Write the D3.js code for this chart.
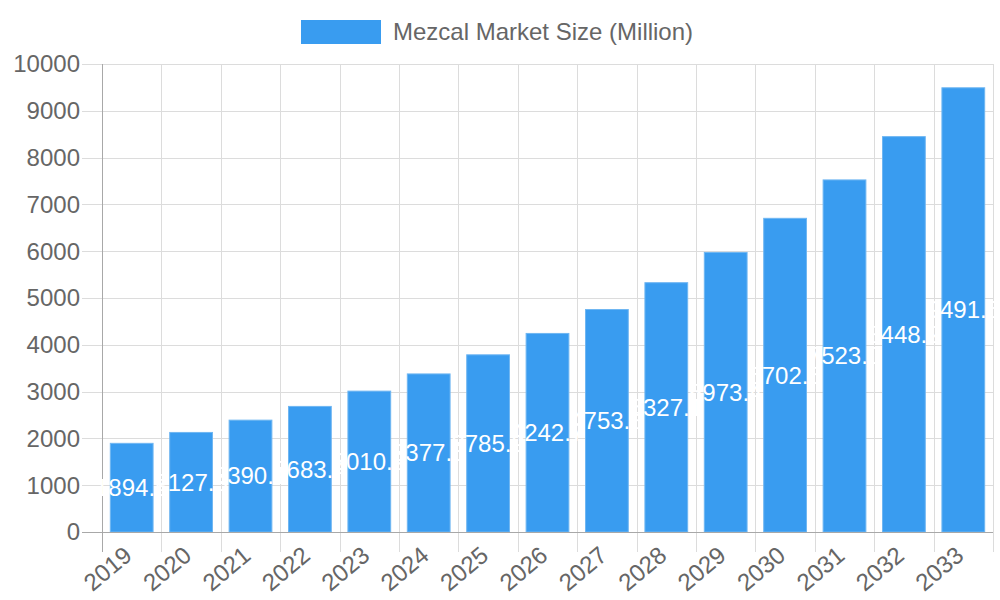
<!DOCTYPE html>
<html>
<head>
<meta charset="utf-8">
<script src="https://cdn.jsdelivr.net/npm/d3@7"></script>
<style>
  body { margin: 0; background: #fff; }
  svg text { font-family: "Liberation Sans", Arial, sans-serif; }
</style>
</head>
<body>
<div id="chart"></div>
<script>
/* chart data */
var years = ["2019", "2020", "2021", "2022", "2023", "2024", "2025", "2026",
             "2027", "2028", "2029", "2030", "2031", "2032", "2033"];
var marketSize = [1894.5, 2127.3, 2390.1, 2683.4, 3010.2, 3377.6, 3785.9, 4242.7,
                  4753.8, 5327.1, 5973.4, 6702.5, 7523.0, 8448.2, 9491.6];
var yTicks = [0, 1000, 2000, 3000, 4000, 5000, 6000, 7000, 8000, 9000, 10000];
var seriesName = "Mezcal Market Size (Million)";

var width = 1000, height = 600;
var margin = { top: 64, right: 7, bottom: 68, left: 102 };
var w = width - margin.left - margin.right;
var h = height - margin.top - margin.bottom;

var barColor = "#399cf0";
var gridColor = "#dcdcdc";
var axisColor = "#a8a8a8";
var textColor = "#666";

var svg = d3.select("#chart").append("svg")
    .attr("width", width)
    .attr("height", height);

var g = svg.append("g")
    .attr("transform", "translate(" + margin.left + "," + margin.top + ")");

/* scales */
var x = d3.scaleBand().domain(years).range([0, w]).paddingInner(0).paddingOuter(0);
var y = d3.scaleLinear().domain([0, 10000]).range([h, 0]);
var barW = x.bandwidth() * 0.72;

/* horizontal grid + left ticks */
g.selectAll(".hgrid")
    .data(yTicks)
  .enter()
    .append("line")
    .attr("class", "hgrid")
    .attr("x1", -20)
    .attr("x2", w)
    .attr("y1", function (d) { return Math.round(y(d)) + 0.5; })
    .attr("y2", function (d) { return Math.round(y(d)) + 0.5; })
    .style("stroke", gridColor)
    .style("stroke-width", 1);

/* vertical grid at category boundaries */
var bounds = years.map(function (d) { return x(d); }).concat([w]);
g.selectAll(".vgrid")
    .data(bounds)
  .enter()
    .append("line")
    .attr("class", "vgrid")
    .attr("x1", function (d) { return Math.round(d) + 0.5; })
    .attr("x2", function (d) { return Math.round(d) + 0.5; })
    .attr("y1", 0)
    .attr("y2", h + 20)
    .style("stroke", gridColor)
    .style("stroke-width", 1);

/* bars */
g.selectAll(".bar")
    .data(marketSize)
  .enter()
    .append("rect")
    .attr("class", "bar")
    .attr("x", function (d, i) { return x(years[i]) + (x.bandwidth() - barW) / 2; })
    .attr("y", function (d) { return y(d); })
    .attr("width", barW)
    .attr("height", function (d) { return h - y(d); })
    .style("fill", barColor)
    .style("stroke", "#6fb6f2")
    .style("stroke-width", 1);

/* axis lines */
g.append("line")
    .attr("x1", 0.5).attr("x2", 0.5)
    .attr("y1", 0).attr("y2", h + 20)
    .style("stroke", axisColor);
g.append("line")
    .attr("x1", -20).attr("x2", w)
    .attr("y1", h + 0.5).attr("y2", h + 0.5)
    .style("stroke", axisColor);

/* y tick labels */
g.selectAll(".ylabel")
    .data(yTicks)
  .enter()
    .append("text")
    .attr("class", "ylabel")
    .attr("x", -22)
    .attr("y", function (d) { return y(d); })
    .attr("dy", "0.35em")
    .style("text-anchor", "end")
    .style("font-size", "24px")
    .style("fill", textColor)
    .text(function (d) { return d; });

/* x tick labels, rotated */
g.selectAll(".xlabel")
    .data(years)
  .enter()
    .append("text")
    .attr("class", "xlabel")
    .attr("transform", function (d) {
      return "translate(" + (x(d) + x.bandwidth() / 2 - 9) + "," + (h + 13) + ") rotate(-40)";
    })
    .attr("dy", "0.7em")
    .style("text-anchor", "end")
    .style("font-size", "24px")
    .style("fill", textColor)
    .text(function (d) { return d; });

/* value labels in the middle of each bar */
g.selectAll(".vlabel")
    .data(marketSize)
  .enter()
    .append("text")
    .attr("class", "vlabel")
    .attr("x", function (d, i) { return x(years[i]) + x.bandwidth() / 2; })
    .attr("y", function (d) { return (y(d) + h) / 2; })
    .attr("dy", "0.35em")
    .style("text-anchor", "middle")
    .style("font-size", "24px")
    .style("fill", "#fff")
    .text(function (d) { return d.toFixed(1); });

/* legend */
var legend = svg.append("g").attr("class", "legend");
legend.append("rect")
    .attr("x", 301).attr("y", 20)
    .attr("width", 80).attr("height", 24)
    .style("fill", barColor);
legend.append("text")
    .attr("x", 393).attr("y", 32)
    .attr("dy", "0.35em")
    .style("font-size", "24px")
    .style("fill", textColor)
    .text(seriesName);
</script>
</body>
</html>
